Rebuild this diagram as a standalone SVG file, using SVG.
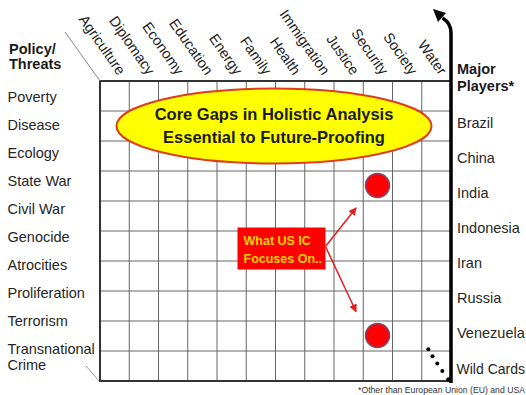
<svg xmlns="http://www.w3.org/2000/svg" width="526" height="395" viewBox="0 0 526 395">
<style>
.lbl{font-family:"Liberation Sans",Arial,sans-serif;font-size:14.5px;fill:#262626}
.hdr{font-family:"Liberation Sans",Arial,sans-serif;font-size:14.5px;font-weight:bold;fill:#1a1a1a}
.col{font-family:"Liberation Sans",Arial,sans-serif;font-size:14.5px;fill:#222;text-anchor:end}
.grid line{stroke:#666;stroke-width:1}
.core{font-family:"Liberation Sans",Arial,sans-serif;font-size:16.5px;font-weight:bold;fill:#1a1a1a;text-anchor:middle}
.focus{font-family:"Liberation Sans",Arial,sans-serif;font-size:12.5px;font-weight:bold;fill:#ffd200}
.dot{fill:#000}
</style>
<defs>
<marker id="redhead" markerWidth="8" markerHeight="8" refX="7" refY="4" orient="auto" markerUnits="userSpaceOnUse">
<path d="M0,0 L8,4 L0,8 Z" fill="#e02020"/>
</marker>
</defs>
<rect width="526" height="395" fill="#fff"/>

<g id="grid" class="grid">
<line x1="129.25" y1="81" x2="129.25" y2="381"/>
<line x1="158.5" y1="81" x2="158.5" y2="381"/>
<line x1="187.75" y1="81" x2="187.75" y2="381"/>
<line x1="217" y1="81" x2="217" y2="381"/>
<line x1="246.25" y1="81" x2="246.25" y2="381"/>
<line x1="275.5" y1="81" x2="275.5" y2="381"/>
<line x1="304.75" y1="81" x2="304.75" y2="381"/>
<line x1="334" y1="81" x2="334" y2="381"/>
<line x1="363.25" y1="81" x2="363.25" y2="381"/>
<line x1="392.5" y1="81" x2="392.5" y2="381"/>
<line x1="421.75" y1="81" x2="421.75" y2="381"/>
<line x1="100" y1="111" x2="451" y2="111"/>
<line x1="100" y1="141" x2="451" y2="141"/>
<line x1="100" y1="171" x2="451" y2="171"/>
<line x1="100" y1="201" x2="451" y2="201"/>
<line x1="100" y1="231" x2="451" y2="231"/>
<line x1="100" y1="261" x2="451" y2="261"/>
<line x1="100" y1="291" x2="451" y2="291"/>
<line x1="100" y1="321" x2="451" y2="321"/>
<line x1="100" y1="351" x2="451" y2="351"/>
<path d="M451,81 L100,81 L100,381 L451,381" fill="none" stroke="#333" stroke-width="2"/>
<line x1="65" y1="32" x2="100" y2="81" style="stroke:#888;stroke-width:1"/>
<line x1="86" y1="366" x2="99" y2="381" style="stroke:#999;stroke-width:1"/>
</g>

<g id="row-labels">
<text class="hdr" x="9" y="53.5">Policy/</text>
<text class="hdr" x="9" y="69">Threats</text>
<text class="lbl" x="7.5" y="101.7">Poverty</text>
<text class="lbl" x="7.5" y="129.7">Disease</text>
<text class="lbl" x="7.5" y="157.7">Ecology</text>
<text class="lbl" x="7.5" y="185.7">State War</text>
<text class="lbl" x="7.5" y="213.7">Civil War</text>
<text class="lbl" x="7.5" y="241.7">Genocide</text>
<text class="lbl" x="7.5" y="269.7">Atrocities</text>
<text class="lbl" x="7.5" y="297.7">Proliferation</text>
<text class="lbl" x="7.5" y="325.7">Terrorism</text>
<text class="lbl" x="7.5" y="353.7">Transnational</text>
<text class="lbl" x="7.5" y="369.5">Crime</text>
</g>

<g id="col-labels">
<text class="col" transform="translate(118,76) rotate(55)">Agriculture</text>
<text class="col" transform="translate(147.2,76) rotate(55)">Diplomacy</text>
<text class="col" transform="translate(176.4,76) rotate(55)">Economy</text>
<text class="col" transform="translate(205.6,76) rotate(55)">Education</text>
<text class="col" transform="translate(234.8,76) rotate(55)">Energy</text>
<text class="col" transform="translate(264,76) rotate(55)">Family</text>
<text class="col" transform="translate(293.2,76) rotate(55)">Health</text>
<text class="col" transform="translate(322.4,76) rotate(55)">Immigration</text>
<text class="col" transform="translate(351.6,76) rotate(55)">Justice</text>
<text class="col" transform="translate(380.8,76) rotate(55)">Security</text>
<text class="col" transform="translate(410,76) rotate(55)">Society</text>
<text class="col" transform="translate(439.2,76) rotate(55)">Water</text>
</g>

<g id="player-labels">
<text class="hdr" x="457" y="74">Major</text>
<text class="hdr" x="457" y="90.5">Players*</text>
<text class="lbl" x="457" y="128">Brazil</text>
<text class="lbl" x="457" y="163">China</text>
<text class="lbl" x="457" y="198">India</text>
<text class="lbl" x="457" y="233">Indonesia</text>
<text class="lbl" x="457" y="268">Iran</text>
<text class="lbl" x="457" y="303">Russia</text>
<text class="lbl" x="457" y="338">Venezuela</text>
<text class="lbl" x="456.5" y="374" textLength="68.5" lengthAdjust="spacingAndGlyphs">Wild Cards</text>
</g>

<g id="core-gaps">
<ellipse cx="274" cy="126" rx="157.5" ry="37.5" fill="#ffff00" stroke="#e03c1e" stroke-width="2"/>
<text class="core" x="274" y="119.5">Core Gaps in Holistic Analysis</text>
<text class="core" x="274" y="142.5">Essential to Future-Proofing</text>
</g>

<g id="focus-box">
<rect x="237.5" y="227.5" width="88" height="42" fill="#ff0000"/>
<text class="focus" x="243.5" y="245">What US IC</text>
<text class="focus" x="243.5" y="263">Focuses On..</text>
</g>

<g id="marker-india">
<circle cx="377.5" cy="185.5" r="12" fill="#ff0000" stroke="#7a4a6e" stroke-width="1.5"/>
</g>
<g id="marker-venezuela">
<circle cx="377.5" cy="335.5" r="12" fill="#ff0000" stroke="#7a4a6e" stroke-width="1.5"/>
</g>

<g id="wildcard-dots">
<circle class="dot" cx="428.3" cy="349.3" r="2"/>
<circle class="dot" cx="432.5" cy="356.3" r="2"/>
<circle class="dot" cx="437.3" cy="363.5" r="2"/>
<circle class="dot" cx="442.3" cy="371" r="2"/>
<circle class="dot" cx="448.5" cy="379.5" r="2.3"/>
</g>

<g id="connectors">
<line x1="325.5" y1="246.5" x2="356" y2="208" stroke="#e02020" stroke-width="1.5" marker-end="url(#redhead)"/>
<line x1="325.5" y1="246.5" x2="356" y2="311.5" stroke="#e02020" stroke-width="1.5" marker-end="url(#redhead)"/>
<path d="M451,383 L451,33 Q451,23 442.5,18" fill="none" stroke="#000" stroke-width="3.5"/>
<polygon points="433,9 446,13 438,22" fill="#000"/>
</g>

<g id="footnote">
<text x="358" y="392.5" font-family="'Liberation Sans',Arial,sans-serif" font-size="8.5" fill="#333" textLength="167" lengthAdjust="spacingAndGlyphs">*Other than European Union (EU) and USA</text>
</g>
</svg>
